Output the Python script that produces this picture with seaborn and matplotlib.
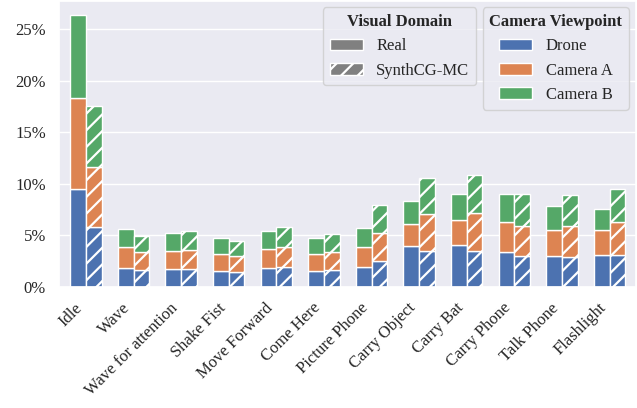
import matplotlib
matplotlib.use("Agg")
import matplotlib.pyplot as plt
from matplotlib.patches import Patch
from matplotlib.ticker import PercentFormatter
import numpy as np
import seaborn as sns

sns.set_theme(style="darkgrid", palette="deep")
plt.rcParams["font.family"] = ["Liberation Serif", "DejaVu Serif"]
plt.rcParams["hatch.color"] = "white"
plt.rcParams["hatch.linewidth"] = 1.6

actions = ["Idle", "Wave", "Wave for attention", "Shake Fist", "Move Forward",
           "Come Here", "Picture Phone", "Carry Object", "Carry Bat",
           "Carry Phone", "Talk Phone", "Flashlight"]
views = ["Drone", "Camera A", "Camera B"]
domains = ["Real", "SynthCG-MC"]

# per-view shares (%)
real_drone = [9.5, 1.85, 1.75, 1.55, 1.85, 1.55, 1.95, 4.0, 4.05, 3.35, 3.0, 3.1]
real_cam_a = [8.8, 2.0, 1.75, 1.65, 1.8, 1.65, 1.95, 2.1, 2.4, 2.95, 2.5, 2.4]
real_cam_b = [8.1, 1.75, 1.7, 1.55, 1.75, 1.55, 1.8, 2.2, 2.55, 2.7, 2.3, 2.05]

synth_drone = [5.8, 1.6, 1.75, 1.45, 1.9, 1.6, 2.5, 3.5, 3.5, 3.0, 2.9, 3.1]
synth_cam_a = [5.8, 1.8, 1.8, 1.55, 1.95, 1.8, 2.7, 3.6, 3.7, 2.9, 3.0, 3.2]
synth_cam_b = [5.9, 1.5, 1.85, 1.45, 1.95, 1.7, 2.7, 3.5, 3.6, 3.15, 3.0, 3.15]

data = {
    "Real": [real_drone, real_cam_a, real_cam_b],
    "SynthCG-MC": [synth_drone, synth_cam_a, synth_cam_b],
}
colors = sns.color_palette("deep")[:3]

fig, ax = plt.subplots(figsize=(6.37, 4.08), dpi=100)
fig.subplots_adjust(left=0.093, right=0.998, bottom=0.297, top=0.997)

x = np.arange(len(actions))
width = 0.33
for d, domain in enumerate(domains):
    offset = (d - 0.5) * width
    bottom = np.zeros(len(actions))
    for v, vals in enumerate(data[domain]):
        ax.bar(x + offset, vals, width, bottom=bottom, color=colors[v],
               edgecolor="white", linewidth=1,
               hatch="//" if domain == "SynthCG-MC" else None)
        bottom += np.array(vals)

ax.set_xlim(-0.56, len(actions) - 0.45)
ax.set_ylim(0, 27.7)
ax.yaxis.set_major_formatter(PercentFormatter(100, decimals=0))
ax.set_xticks(x)
ax.set_xticklabels(actions, rotation=45, ha="right")
ax.tick_params(labelsize=12)
ax.grid(axis="x", visible=False)

dom_handles = [Patch(facecolor="gray", edgecolor="white", label="Real"),
               Patch(facecolor="gray", edgecolor="white", hatch="//", label="SynthCG-MC")]
view_handles = [Patch(facecolor=colors[i], edgecolor="white", label=views[i]) for i in range(3)]

leg1 = ax.legend(handles=dom_handles, title="Visual Domain", loc="upper right",
                 bbox_to_anchor=(0.723, 0.979), borderaxespad=0, fontsize=12,
                 title_fontproperties={"weight": "bold", "size": 12})
ax.add_artist(leg1)
ax.legend(handles=view_handles, title="Camera Viewpoint", loc="upper right",
          bbox_to_anchor=(0.988, 0.979), borderaxespad=0, fontsize=12,
          title_fontproperties={"weight": "bold", "size": 12})

fig.savefig("out.png", dpi=100)
